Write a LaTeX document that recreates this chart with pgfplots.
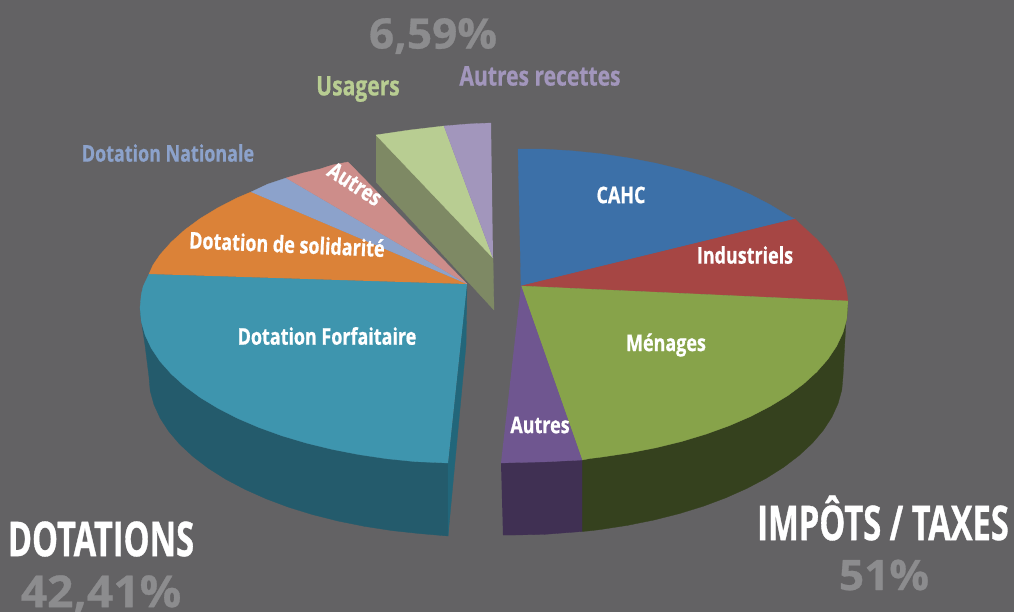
\documentclass[border=0pt]{standalone}
\usepackage{pgfplots}
\pgfplotsset{compat=1.18}
\usepackage{fontspec}
\newfontfamily\lblfont[UprightFont=* Bold,FakeBold=0.7,FakeStretch=0.78]{Open Sans}
\newfontfamily\bigfont[UprightFont=* Bold,FakeBold=0.7,FakeStretch=0.68]{Open Sans}
\newfontfamily\numfont[UprightFont=* Bold,FakeBold=0.7,FakeStretch=1.05]{Open Sans}
\setmainfont{Open Sans}
\definecolor{bg}{HTML}{636264}
\definecolor{cahc}{HTML}{3C70A8}
\definecolor{indus}{HTML}{A64644}
\definecolor{menag}{HTML}{87A34A}
\definecolor{menagd}{HTML}{35411E}
\definecolor{autp}{HTML}{6F5690}
\definecolor{autpd}{HTML}{403053}
\definecolor{teal}{HTML}{3E95AE}
\definecolor{teald}{HTML}{245B6C}
\definecolor{tealc}{HTML}{22667A}
\definecolor{orang}{HTML}{DB8238}
\definecolor{natb}{HTML}{8CA2CB}
\definecolor{rose}{HTML}{CD8D8A}
\definecolor{usag}{HTML}{B8CD92}
\definecolor{recet}{HTML}{A296BC}
\definecolor{wall}{HTML}{7E8964}
\definecolor{grayt}{HTML}{8C8C8E}
\newcommand{\fs}[1]{\fontsize{#1}{#1}\selectfont\lblfont}
\newcommand{\fb}[1]{\fontsize{#1}{#1}\selectfont\bigfont}
\newcommand{\fn}[1]{\fontsize{#1}{#1}\selectfont\numfont}
\begin{document}
\begin{tikzpicture}
\begin{axis}[
  width=1014pt,height=611pt,scale only axis,
  xmin=0,xmax=1014,ymin=0,ymax=611,y dir=reverse,
  axis line style={draw=none},tick style={draw=none},
  xtick=\empty,ytick=\empty,
  clip=true,
]
% background
\addplot[fill=bg,draw=bg] coordinates {(0,0)(1014,0)(1014,611)(0,611)};
% left pie: side faces
\addplot[fill=teald,draw=teald,line width=0.3pt] coordinates {
 (140,308)(141.3,321.6)(145.1,335.1)(151.4,348.4)(160.1,361.4)(171.2,373.9)(184.6,386)(200.2,397.5)(218,408.3)(237.5,418.3)(259,427.5)(282,435.8)(306.5,443.1)(332.3,449.4)(359.1,454.6)(386.8,458.7)(415.2,461.6)(448,463)
 (448,536)(420,533.6)(392.1,530.6)(364.8,526.4)(338.4,521.1)(313,514.7)(288.9,507.3)(266.2,498.8)(245.1,489.4)(225.7,479.2)(208.3,468.2)(193,456.5)(179.7,444.2)(168.8,431.4)(160.2,418.2)(154,404.6)(150.2,390.9)(149,377)(145,345)(142,325)};
\addplot[fill=tealc,draw=tealc,line width=0.3pt] coordinates {(467,284)(466,345)(448,536)(448,463)};
% left pie: top
\addplot[fill=teal,draw=teal,line width=0.3pt] coordinates {
 (467,284)(149,274)(143.2,286.3)(141.3,294.4)(140,308)(141.3,321.6)(145.1,335.1)(151.4,348.4)(160.1,361.4)(171.2,373.9)(184.6,386)(200.2,397.5)(218,408.3)(237.5,418.3)(259,427.5)(282,435.8)(306.5,443.1)(332.3,449.4)(359.1,454.6)(386.8,458.7)(415.2,461.6)(448,463)};
\addplot[fill=orang,draw=orang,line width=0.3pt] coordinates {
 (467,284)(251,192)(237.5,197.7)(218,207.7)(200.2,218.5)(184.6,230)(171.2,242.1)(160.1,254.6)(153,265)(149,274)};
\addplot[fill=natb,draw=natb,line width=0.3pt] coordinates {(467,284)(286,178)(268,184)(251,192)};
\addplot[fill=rose,draw=rose,line width=0.3pt] coordinates {(467,284)(348,162)(332.3,165)(320,169)(303,173)(286,178)};
% detached slices
\addplot[fill=wall,draw=wall,line width=0.3pt] coordinates {(376,135)(493,258)(494,310)(376,182)};
\addplot[fill=usag,draw=usag,line width=0.3pt] coordinates {(493,258)(376,135)(410,130)(444,126)};
\addplot[fill=recet,draw=recet,line width=0.3pt] coordinates {(493,258)(444,126)(468,124)(491,123)};
% right pie: side faces
\addplot[fill=menagd,draw=menagd,line width=0.3pt] coordinates {
 (848,301)(846.7,319.2)(842.9,332.8)(836.6,346.1)(827.9,359.2)(816.8,371.8)(803.4,384)(787.8,395.6)(770,406.4)(750.5,416.5)(729,425.8)(706,434.1)(681.5,441.5)(655.7,447.8)(628.9,453)(601.2,457.1)(589.9,458.5)(582,460)
 (582,531.5)(588.8,530.9)(599.9,529.6)(627.2,525.4)(653.6,520.1)(679,513.7)(703.1,506.3)(725.8,497.8)(746.9,488.4)(766.3,478.2)(783.7,467.2)(799,455.5)(812.3,443.2)(823.2,430.4)(831.8,417.2)(838,403.6)(841.8,389.9)(843,376)(846,320)};
\addplot[fill=autpd,draw=autpd,line width=0.3pt] coordinates {
 (501,463)(515,462.5)(544,461.9)(582,460)(582,531.5)(544,534.4)(515,535)(503,535)};
% right pie: top
\addplot[fill=cahc,draw=cahc,line width=0.3pt] coordinates {
 (521,286)(518,149)(544,149.1)(572.8,150.9)(601.2,153.8)(628.9,158)(655.7,163.2)(681.5,169.5)(706,176.9)(729,185.2)(750.5,194.5)(770,204.6)(787.8,215.4)(795,219)};
\addplot[fill=indus,draw=indus,line width=0.3pt] coordinates {
 (521,286)(795,219)(803.4,227)(816.8,239.2)(827.9,251.8)(836.6,264.9)(842.9,278.2)(846.7,291.8)(848,301)};
\addplot[fill=menag,draw=menag,line width=0.3pt] coordinates {
 (521,286)(848,301)(846.7,319.2)(842.9,332.8)(836.6,346.1)(827.9,359.2)(816.8,371.8)(803.4,384)(787.8,395.6)(770,406.4)(750.5,416.5)(729,425.8)(706,434.1)(681.5,441.5)(655.7,447.8)(628.9,453)(601.2,457.1)(589.9,458.5)(582,460)};
\addplot[fill=autp,draw=autp,line width=0.3pt] coordinates {
 (521,286)(582,460)(544,461.9)(515,462.5)(501,463)};
% slice labels
\node[white] at (axis cs:621,195) {\fs{23}CAHC};
\node[white] at (axis cs:745,255) {\fs{23}Industriels};
\node[white] at (axis cs:666,345) {\fs{23}Ménages};
\node[white] at (axis cs:540,425) {\fs{23}Autres};
\node[white] at (axis cs:327,336) {\fs{23}Dotation Forfaitaire};
\node[white,rotate=-2.5] at (axis cs:287,244) {\fs{23}Dotation de solidarité};
\node[white,rotate=-33] at (axis cs:355,184) {\fs{23}Autres};
% outer labels
\node[natb] at (axis cs:168,153) {\fs{23}Dotation Nationale};
\node[usag] at (axis cs:358,89) {\fs{27}Usagers};
\node[recet] at (axis cs:540,76) {\fs{27}Autres recettes};
\node[grayt] at (axis cs:433,36) {\fn{42}6,59\%};
\node[white] at (axis cs:101,539) {\fb{48}DOTATIONS};
\node[grayt] at (axis cs:101,594) {\fn{44}42,41\%};
\node[white] at (axis cs:883,518) {\fb{48}IMPÔTS / TAXES};
\node[grayt] at (axis cs:884,575) {\fn{42}51\%};
\end{axis}
\end{tikzpicture}
\end{document}
